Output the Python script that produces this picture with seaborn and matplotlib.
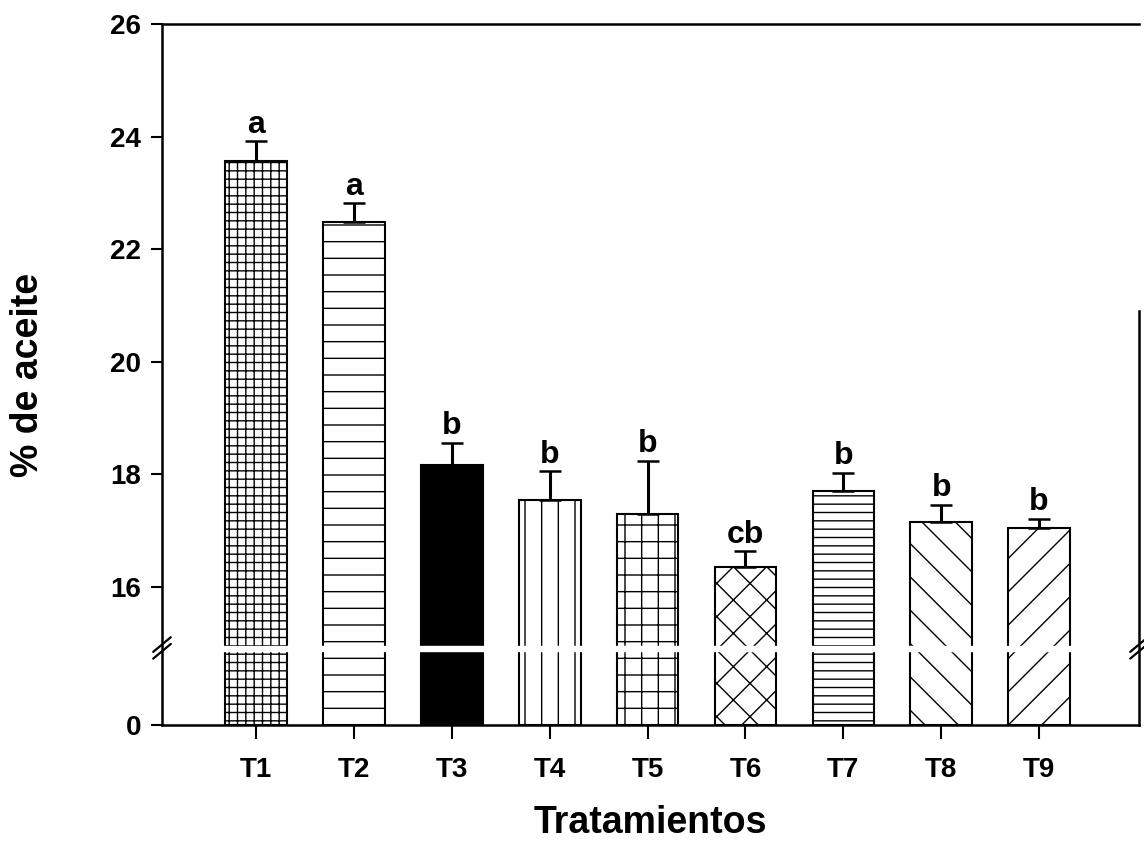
import numpy as np
import matplotlib
matplotlib.use("Agg")
import matplotlib.pyplot as plt
import seaborn as sns

# Oil content per treatment (mean and upper error)
treatments = ["T1", "T2", "T3", "T4", "T5", "T6", "T7", "T8", "T9"]
oil_pct = [23.56, 22.48, 18.17, 17.55, 17.30, 16.36, 17.71, 17.16, 17.05]
oil_err = [0.36, 0.34, 0.39, 0.50, 0.94, 0.27, 0.32, 0.30, 0.16]
groups = ["a", "a", "b", "b", "b", "cb", "b", "b", "b"]
hatches = ["++", "-", "", "|", "+", "x", "--", "\\", "/"]
fills = ["white", "white", "black", "white", "white", "white", "white", "white", "white"]
y_ticks = [0, 16, 18, 20, 22, 24, 26]

# Broken axis: 0..16 squeezed into a short stub, 16..26 on a linear scale
BREAK_LOW = 16.0
STUB = 2.455
BREAK_AT = 8.86


def fwd(y):
    y = np.asarray(y, dtype=float)
    return np.where(y <= BREAK_LOW, y * STUB / BREAK_LOW, STUB + (y - BREAK_LOW))


def inv(f):
    f = np.asarray(f, dtype=float)
    return np.where(f <= STUB, f * BREAK_LOW / STUB, f - STUB + BREAK_LOW)


sns.set_theme(style="white")
plt.rcParams["font.family"] = ["Liberation Sans", "DejaVu Sans"]
plt.rcParams["font.weight"] = "bold"
plt.rcParams["text.color"] = "black"
plt.rcParams["axes.labelcolor"] = "black"
plt.rcParams["xtick.color"] = "black"
plt.rcParams["ytick.color"] = "black"
plt.rcParams["hatch.linewidth"] = 1.0
plt.rcParams["hatch.color"] = "black"

fig = plt.figure(figsize=(11.44, 8.46), dpi=100)
ax = fig.add_axes([162 / 1144, 1 - 725 / 846, (1139 - 162) / 1144, (725 - 24) / 846])

sns.barplot(x=treatments, y=oil_pct, ax=ax, width=0.63, color="white",
            edgecolor="black", linewidth=1.5, errorbar=None)
for patch, h, fc in zip(ax.patches, hatches, fills):
    patch.set_hatch(h)
    patch.set_facecolor(fc)
    patch.set_edgecolor("black")

ax.set_yscale("function", functions=(fwd, inv))

xpos = np.arange(len(treatments))
ax.errorbar(xpos, oil_pct, yerr=[np.zeros(len(oil_err)), oil_err], fmt="none",
            ecolor="black", elinewidth=2.2, capsize=8, capthick=1.8, zorder=3)

for x, v, e, g in zip(xpos, oil_pct, oil_err, groups):
    ax.annotate(g, (x, v + e), xytext=(0, 6), textcoords="offset points",
                ha="center", va="baseline", fontsize=23, fontweight="bold",
                color="black")

ax.set_xlim(-0.96, 9.02)
ax.set_ylim(0, 26)
ax.set_yticks(y_ticks)
ax.set_yticklabels([str(t) for t in y_ticks])

# gap across the bars where the axis is broken
ax.axhspan(inv(fwd(BREAK_AT) - 0.045), inv(fwd(BREAK_AT) + 0.045),
           xmin=0.01, xmax=0.99, color="white", zorder=2)

for side in ["left", "bottom", "top", "right"]:
    ax.spines[side].set_visible(True)
    ax.spines[side].set_color("black")
    ax.spines[side].set_linewidth(1.8)
ax.spines["right"].set_bounds(0, 20.9)

# break marks on both vertical axes
for xa in (0.0, 1.0):
    for dy in (-0.05, 0.07):
        fb = fwd(BREAK_AT) + dy
        ax.plot([xa - 0.009, xa + 0.009], [inv(fb - 0.13), inv(fb + 0.13)],
                transform=ax.get_yaxis_transform(), color="black", lw=1.6,
                clip_on=False, zorder=5)

ax.tick_params(axis="both", which="major", direction="out", length=8, width=1.5,
               color="black", bottom=True, left=True)
ax.tick_params(axis="y", labelsize=20, pad=7)
ax.tick_params(axis="x", labelsize=20, pad=13, length=10)
for lab in ax.get_xticklabels() + ax.get_yticklabels():
    lab.set_fontweight("bold")
    lab.set_color("black")

ax.set_xlabel("Tratamientos", fontsize=27, fontweight="bold", color="black")
ax.xaxis.label.set_va("center")
ax.xaxis.set_label_coords(0.5, (725 - 823) / 701)
ax.set_ylabel("% de aceite", fontsize=27, fontweight="bold", color="black")
ax.yaxis.label.set_va("center")
ax.yaxis.set_label_coords((28 - 162) / 977, 0.5)

fig.savefig("out.png", dpi=100, facecolor="white")
